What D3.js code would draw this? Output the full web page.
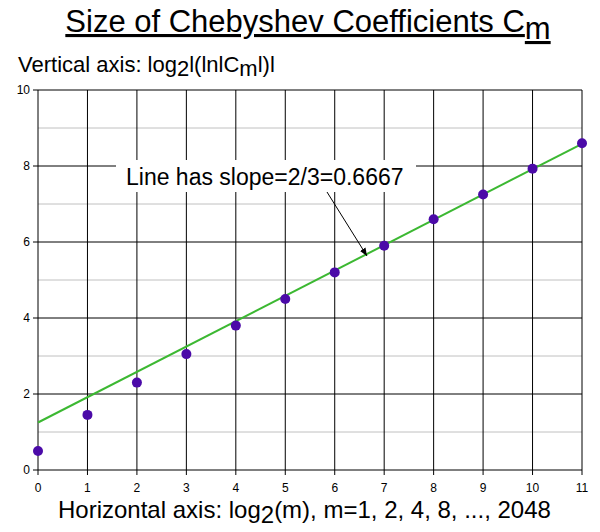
<!DOCTYPE html>
<html><head><meta charset="utf-8">
<script src="https://cdn.jsdelivr.net/npm/d3@7"></script>
<style>body{margin:0;background:#fff}svg{font-family:"Liberation Sans",Arial,sans-serif}</style>
</head><body><div id="chart"></div>
<script>
// values
const xs = [0,1,2,3,4,5,6,7,8,9,10,11];
const ys = [0.5,1.45,2.3,3.05,3.8,4.5,5.2,5.9,6.6,7.25,7.93,8.6];
const lineX = [0,11];
const lineY = [1.25,1.25+11*2/3];
const yTicks = [0,2,4,6,8,10];

const width = 600, height = 532;
const margin = {left:38, right:18, top:90, bottom:62};

const svg = d3.select("#chart").append("svg")
  .attr("width", width).attr("height", height);

const x = d3.scaleLinear().domain([0,11]).range([margin.left, width-margin.right]);
const y = d3.scaleLinear().domain([0,10]).range([height-margin.bottom, margin.top]);

// grid: grey at odd values, black at even
svg.append("g").selectAll("line").data(d3.range(1,10,2)).join("line")
  .attr("x1", x(0)).attr("x2", x(11)).attr("y1", d=>y(d)).attr("y2", d=>y(d))
  .attr("stroke", "#c0c0c0");
svg.append("g").selectAll("line").data(yTicks).join("line")
  .attr("x1", x(0)-5).attr("x2", x(11)).attr("y1", d=>y(d)).attr("y2", d=>y(d))
  .attr("stroke", "#000");
svg.append("g").selectAll("line").data(xs).join("line")
  .attr("x1", d=>x(d)).attr("x2", d=>x(d)).attr("y1", y(10)).attr("y2", y(0)+5)
  .attr("stroke", "#000");

svg.append("g").selectAll("text").data(yTicks).join("text")
  .attr("x", x(0)-8).attr("y", d=>y(d)+4).attr("text-anchor","end")
  .attr("font-size", 12).text(d=>d);
svg.append("g").selectAll("text").data(xs).join("text")
  .attr("x", d=>x(d)).attr("y", y(0)+22).attr("text-anchor","middle")
  .attr("font-size", 12).text(d=>d);

// fitted line
svg.append("line")
  .attr("x1", x(lineX[0])).attr("y1", y(lineY[0]))
  .attr("x2", x(lineX[1])).attr("y2", y(lineY[1]))
  .attr("stroke", "#3cb832").attr("stroke-width", 2);

// points
svg.append("g").selectAll("circle").data(xs).join("circle")
  .attr("cx", d=>x(d)).attr("cy", (d,i)=>y(ys[i])).attr("r", 5)
  .attr("fill", "#4b0aa8");

// annotation
svg.append("rect").attr("x", 116).attr("y", 160).attr("width", 300).attr("height", 32).attr("fill", "#fff");
svg.append("text").attr("x", 126).attr("y", 185).attr("font-size", 23).text("Line has slope=2/3=0.6667");
svg.append("defs").append("marker").attr("id","ah").attr("viewBox","0 0 10 10")
  .attr("refX",10).attr("refY",5).attr("markerWidth",8).attr("markerHeight",8).attr("orient","auto")
  .append("path").attr("d","M0,1L10,5L0,9z").attr("fill","#000");
svg.append("line").attr("x1", 327).attr("y1", 192).attr("x2", 367).attr("y2", 256)
  .attr("stroke","#000").attr("marker-end","url(#ah)");

// titles
const t = svg.append("text").attr("x", 308).attr("y", 32).attr("text-anchor","middle")
  .attr("font-size", 31).attr("text-decoration","underline");
t.append("tspan").text("Size of Chebyshev Coefficients C");
t.append("tspan").attr("dy", 7).text("m");

const v = svg.append("text").attr("x", 18).attr("y", 72).attr("font-size", 22);
v.append("tspan").text("Vertical axis: log");
v.append("tspan").attr("dy", 4).text("2");
v.append("tspan").attr("dy", -4).text("l(lnlC");
v.append("tspan").attr("dy", 4).text("m");
v.append("tspan").attr("dy", -4).text("l)l");

const h = svg.append("text").attr("x", 58).attr("y", 518).attr("font-size", 24);
h.append("tspan").text("Horizontal axis:  log");
h.append("tspan").attr("dy", 5).text("2");
h.append("tspan").attr("dy", -5).text("(m), m=1, 2, 4, 8, ..., 2048");
</script></body></html>
